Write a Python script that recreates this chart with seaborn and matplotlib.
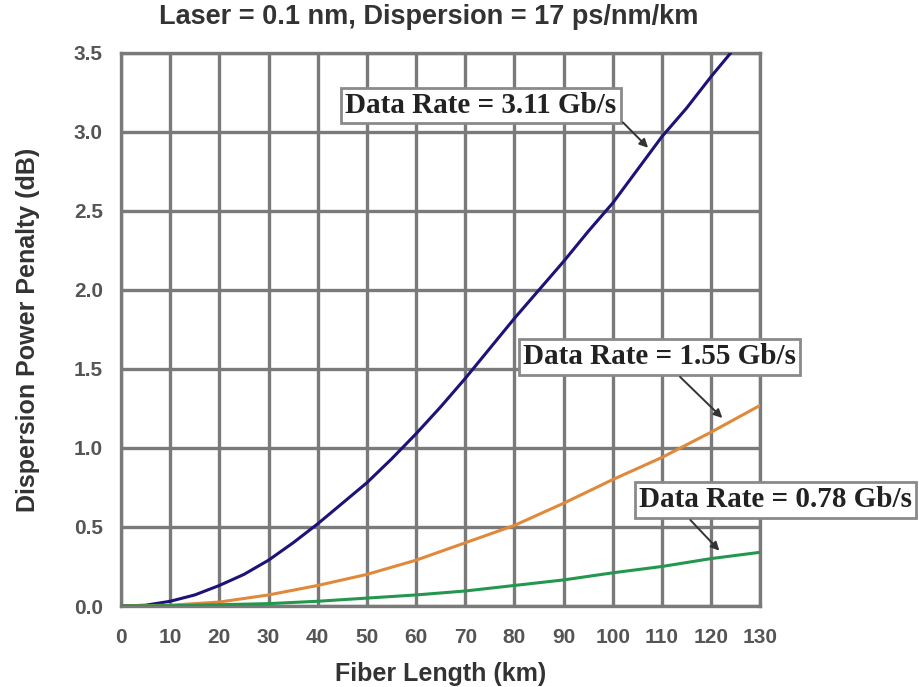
import numpy as np
import pandas as pd
import matplotlib
matplotlib.use("Agg")
import matplotlib.pyplot as plt
import seaborn as sns

# values (fiber length in km, penalty in dB)
km_311 = [0, 5, 10, 15, 20, 25, 30, 35, 40, 45, 50, 55, 60, 65, 70, 75, 80, 85,
          90, 95, 100, 105, 110, 115, 120, 124]
db_311 = [0.0, 0.005, 0.03, 0.07, 0.13, 0.2, 0.29, 0.4, 0.52, 0.65, 0.78, 0.93,
          1.09, 1.26, 1.44, 1.63, 1.82, 2.0, 2.18, 2.37, 2.55, 2.76, 2.97, 3.15,
          3.35, 3.5]

km_155 = [0, 10, 20, 30, 40, 50, 60, 70, 80, 90, 100, 110, 120, 130]
db_155 = [0.0, 0.005, 0.025, 0.07, 0.13, 0.2, 0.29, 0.40, 0.51, 0.65, 0.80,
          0.94, 1.10, 1.27]

km_078 = [0, 10, 20, 30, 40, 50, 60, 70, 80, 90, 100, 110, 120, 130]
db_078 = [0.0, 0.002, 0.008, 0.015, 0.03, 0.05, 0.07, 0.095, 0.13, 0.165, 0.21,
          0.25, 0.30, 0.34]

rates = ["3.11", "1.55", "0.78"]
colors = {"3.11": "#1c1277", "1.55": "#e0893a", "0.78": "#23974d"}

# label box centres and arrow (tail, head) in data units
label_pos = {"3.11": (73.2, 3.165), "1.55": (109.5, 1.576), "0.78": (133.1, 0.671)}
arrows = {"3.11": ((102.1, 3.06), (107.2, 2.90)),
          "1.55": ((113.7, 1.45), (122.3, 1.19)),
          "0.78": ((115.8, 0.544), (121.7, 0.35))}

df = pd.concat([
    pd.DataFrame({"km": km_311, "db": db_311, "rate": "3.11"}),
    pd.DataFrame({"km": km_155, "db": db_155, "rate": "1.55"}),
    pd.DataFrame({"km": km_078, "db": db_078, "rate": "0.78"}),
])

sns.set_style("white")
plt.rcParams["font.family"] = ["Liberation Sans", "DejaVu Sans"]

fig = plt.figure(figsize=(9.19, 6.87), dpi=100)
ax = fig.add_axes([0.1317, 0.1179, 0.6955, 0.805])

grid_col = "#7a7a7a"
sns.lineplot(data=df, x="km", y="db", hue="rate", hue_order=rates,
             palette=colors, linewidth=2.2, legend=False, ax=ax, zorder=3,
             sort=False)

ax.set_xlim(0, 130)
ax.set_ylim(0, 3.5)
ax.set_xticks(np.arange(0, 131, 10))
ax.set_yticks(np.arange(0, 3.51, 0.5))
ax.set_yticklabels([f"{v:.1f}" for v in np.arange(0, 3.51, 0.5)])
ax.grid(True, color=grid_col, linewidth=2.4)
ax.set_axisbelow(True)
for s in ax.spines.values():
    s.set_color(grid_col)
    s.set_linewidth(2.4)
ax.tick_params(axis="both", direction="out", length=5, width=2, color=grid_col,
               labelsize=15, labelcolor="#555555")
ax.tick_params(axis="x", pad=11)
ax.tick_params(axis="y", pad=8)
for lbl in ax.get_xticklabels() + ax.get_yticklabels():
    lbl.set_fontweight("bold")

ax.set_xlabel("Fiber Length (km)", fontsize=18, fontweight="bold", color="#333333")
ax.set_ylabel("Dispersion Power Penalty (dB)", fontsize=18, fontweight="bold",
              color="#333333")
ax.xaxis.set_label_coords(0.5, -0.101)
ax.yaxis.set_label_coords(-0.127, 0.5)

fig.text(0.466, 0.975, "Laser = 0.1 nm, Dispersion = 17 ps/nm/km", ha="center",
         va="center", fontsize=19.5, fontweight="bold", color="#333333")

for r in rates:
    tx, ty = label_pos[r]
    ax.text(tx, ty, f"Data Rate = {r} Gb/s", ha="center", va="center",
            fontsize=21, fontweight="bold", family="Liberation Serif",
            color="#222222", zorder=6, clip_on=False,
            bbox=dict(boxstyle="square,pad=0.14", fc="white", ec="#8a8a8a", lw=2))
    tail, head = arrows[r]
    ax.annotate("", xy=head, xytext=tail, zorder=6, annotation_clip=False,
                arrowprops=dict(arrowstyle="-|>,head_length=0.5,head_width=0.25",
                                color="#333333", lw=1.4, shrinkA=0, shrinkB=0))

fig.savefig("out.png", dpi=100)
